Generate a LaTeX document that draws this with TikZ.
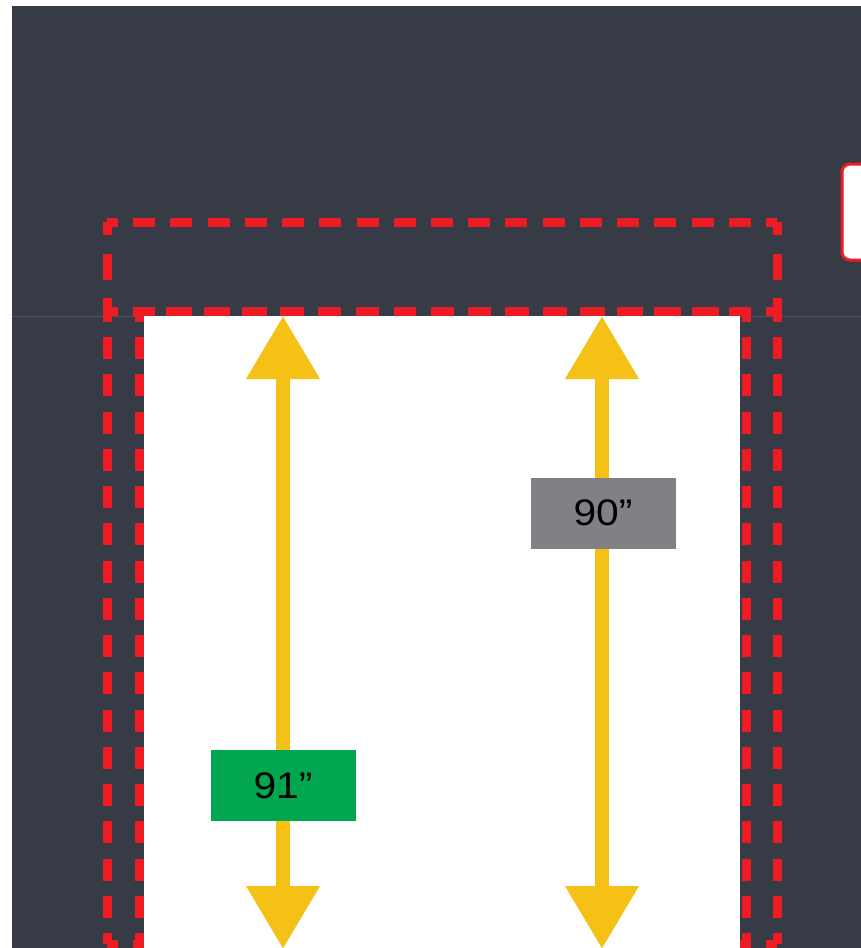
\documentclass[tikz,border=0pt]{standalone}
\usepackage{fontspec}
\setmainfont{Liberation Sans}
\newfontfamily\labelfont[FakeStretch=1.1]{Liberation Sans}
\usetikzlibrary{arrows.meta}
\definecolor{bgdark}{HTML}{363B46}
\definecolor{faintline}{HTML}{4F5560}
\definecolor{dashred}{HTML}{ED1C24}
\definecolor{dimyellow}{HTML}{F6C117}
\definecolor{labelgrey}{HTML}{808184}
\definecolor{labelgreen}{HTML}{00A650}
\tikzset{
  reddash/.style={draw=dashred, line width=9pt, line cap=butt, dash pattern=on 22pt off #1pt, dash phase=11pt},
  redshort/.style={draw=dashred, line width=9pt, line cap=butt, dash pattern=on 26pt off 18.5pt, dash phase=13pt},
  dimarrow/.style={draw=dimyellow, line width=14pt,
    {Triangle[width=70pt,length=63pt]}-{Triangle[width=70pt,length=63pt]}},
  dimlabel/.style={rectangle, inner sep=0pt, minimum width=145pt, minimum height=71pt,
    font=\labelfont\fontsize{37}{40}\selectfont, text=black},
  doorbox/.style={rectangle, fill=white, inner sep=0pt, anchor=north west},
  sidebox/.style={rectangle, rounded corners=8pt, fill=white, draw=dashred, line width=3pt}
}
\begin{document}
\begin{tikzpicture}[x=1pt,y=-1pt]
\useasboundingbox (0,0) rectangle (861,948);
\clip (0,0) rectangle (861,948);
\fill[white] (0,0) rectangle (861,948);
\fill[bgdark] (12,6) rectangle (861,948);
\coordinate (fl) at (12,316.5);
\coordinate (fr) at (861,316.5);
\draw[faintline, line width=1pt] (fl) -- (fr);
% side box
\node[sidebox, minimum width=60pt, minimum height=96pt, anchor=north west] (side) at (840.5,162.5) {};
% red dashed outlines: header
\draw[reddash=15.22] (107,222) -- (777,222);
\draw[reddash=15.22] (107,311) -- (777,311);
\draw[redshort] (107,222) -- (107,311);
\draw[redshort] (777,222) -- (777,311);
% outer lower frame
\draw[reddash=15.24] (107,311) -- (107,944);
\draw[reddash=15.24] (777,311) -- (777,944);
\draw[reddash=15.22] (107,944) -- (777,944);
% inner frame
\draw[reddash=15.94] (139,311) -- (746,311);
\draw[reddash=15.24] (139,311) -- (139,944);
\draw[reddash=15.24] (746,311) -- (746,944);
\draw[reddash=15.94] (139,944) -- (746,944);
% door
\node[doorbox, minimum width=596pt, minimum height=640pt] (door) at (144,316) {};
% dimension arrows
\coordinate (lt) at (283,316);
\coordinate (lb) at (283,949);
\coordinate (rt) at (602,316);
\coordinate (rb) at (602,949);
\draw[dimarrow] (lt) -- (lb);
\draw[dimarrow] (rt) -- (rb);
% labels
\node[dimlabel, fill=labelgrey] (l90) at (603,513) {90”};
\node[dimlabel, fill=labelgreen] (l91) at (283,785.5) {91”};
\end{tikzpicture}
\end{document}
